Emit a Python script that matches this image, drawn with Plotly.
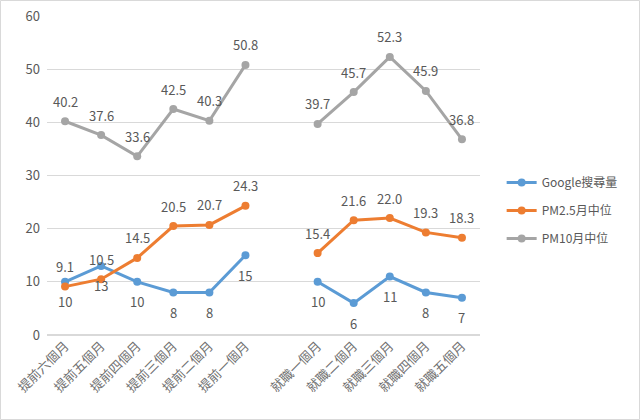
import plotly.graph_objects as go

# categories (blank slot separates the two periods)
months = ["提前六個月", "提前五個月", "提前四個月", "提前三個月", "提前二個月", "提前一個月",
          " ",
          "就職一個月", "就職二個月", "就職三個月", "就職四個月", "就職五個月"]

google = [10, 13, 10, 8, 8, 15, None, 10, 6, 11, 8, 7]
pm25 = [9.1, 10.5, 14.5, 20.5, 20.7, 24.3, None, 15.4, 21.6, 22.0, 19.3, 18.3]
pm10 = [40.2, 37.6, 33.6, 42.5, 40.3, 50.8, None, 39.7, 45.7, 52.3, 45.9, 36.8]

font_family = "Microsoft JhengHei, Noto Sans CJK TC, sans-serif"
text_color = "#595959"

W, H = 640, 420
L, R, T, B = 47, 160, 16, 85
pw, ph = W - L - R, H - T - B

series = [
    ("Google搜尋量", google, "#5B9BD5", "{:d}", -20),
    ("PM2.5月中位", pm25, "#ED7D31", "{:.1f}", 20),
    ("PM10月中位", pm10, "#A5A5A5", "{:.1f}", 20),
]

fig = go.Figure()
annotations = []
for name, vals, color, fmt, shift in series:
    fig.add_trace(go.Scatter(
        x=months, y=vals, name=name, legendgroup=name,
        mode="lines+markers", hoverinfo="skip",
        line=dict(color=color, width=3), marker=dict(size=8),
    ))
    for m, v in zip(months, vals):
        if v is None:
            continue
        annotations.append(dict(
            x=m, y=v, xref="x", yref="y", text=fmt.format(v),
            showarrow=False, yshift=shift,
            font=dict(color=text_color, size=13),
        ))

fig.update_layout(
    width=W, height=H,
    margin=dict(l=L, r=R, t=T, b=B),
    paper_bgcolor="white", plot_bgcolor="white",
    font=dict(family=font_family, color=text_color, size=12),
    hovermode=False,
    showlegend=True,
    legend=dict(x=1.05, y=0.39, yanchor="middle", xanchor="left",
                font=dict(size=12, color=text_color),
                tracegroupgap=9),
    xaxis=dict(type="category", range=[-0.5, 11.5], tickangle=-45,
               showgrid=False, showline=False, ticks="", automargin=False,
               tickfont=dict(size=13, color="#6F6F6F")),
    yaxis=dict(range=[0, 60], dtick=10, showgrid=True, gridcolor="#D9D9D9",
               zeroline=True, zerolinecolor="#D9D9D9", showline=False,
               automargin=False, ticklabelstandoff=6,
               tickfont=dict(size=13, color=text_color)),
    annotations=annotations,
    shapes=[dict(type="rect", xref="paper", yref="paper",
                 x0=(0.5 - L) / pw, x1=(W - 0.5 - L) / pw,
                 y0=(H - B - (H - 0.5)) / ph, y1=(H - B - 0.5) / ph,
                 line=dict(color="#D9D9D9", width=1))],
)

# page body has a default 8px margin; drop it so the chart fills the window
fig.write_html("out.html", config={"displayModeBar": False, "staticPlot": True},
               post_script="document.body.style.margin='0';")
